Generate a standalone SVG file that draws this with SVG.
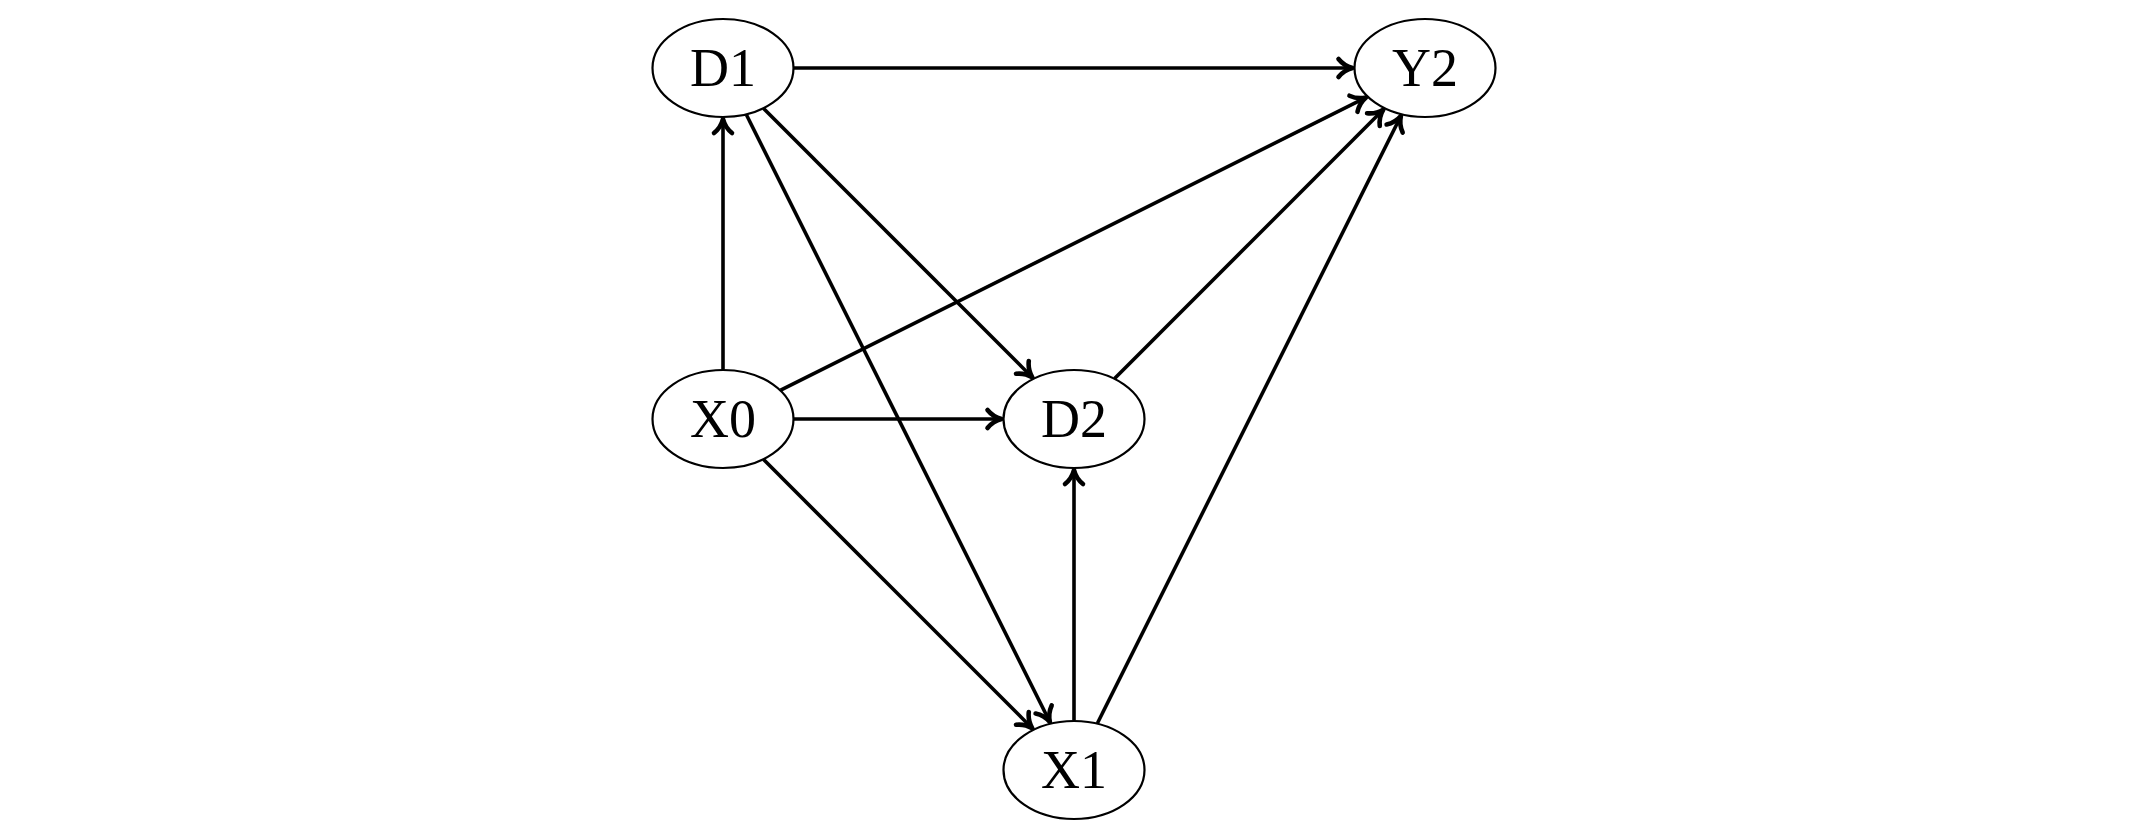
<svg xmlns="http://www.w3.org/2000/svg" width="2138" height="837" viewBox="0 0 2138 837">
<style>
.node ellipse{fill:#fff;stroke:#000;stroke-width:2.2}
.node text{font-family:"Liberation Serif","DejaVu Serif",serif;font-size:54px;text-anchor:middle;fill:#000}
.edges line{stroke:#000;stroke-width:3.6;fill:none;marker-end:url(#arr)}
</style>
<defs>
<marker id="arr" markerUnits="userSpaceOnUse" markerWidth="24" markerHeight="24" refX="-2" refY="0" orient="auto" overflow="visible" viewBox="-16 -12 24 24">
<path d="M -14,-9 C -10,-4 -4,-1 0,0 C -4,1 -10,4 -14,9" fill="none" stroke="#000" stroke-width="4.6" stroke-linecap="round" stroke-linejoin="round"/>
</marker>
</defs>
<rect width="2138" height="837" fill="#fff"/>
<g class="edges" id="edges">
<line x1="794" y1="68" x2="1350.5" y2="68"/>
<line x1="723" y1="369.5" x2="723" y2="121"/>
<line x1="763.6" y1="108.6" x2="1030.9" y2="375.9"/>
<line x1="746.4" y1="114.7" x2="1049" y2="720.2"/>
<line x1="780.7" y1="390.2" x2="1364.2" y2="98.4"/>
<line x1="794" y1="419" x2="999.5" y2="419"/>
<line x1="763.6" y1="459.6" x2="1030.9" y2="726.9"/>
<line x1="1114.6" y1="378.4" x2="1381.9" y2="111.1"/>
<line x1="1074" y1="720.5" x2="1074" y2="472"/>
<line x1="1097.4" y1="723.3" x2="1400" y2="117.8"/>
</g>
<g class="node" id="D1"><ellipse cx="723" cy="68" rx="70.5" ry="49"/><text x="723" y="86">D1</text></g>
<g class="node" id="Y2"><ellipse cx="1425" cy="68" rx="70.5" ry="49"/><text x="1425" y="86">Y2</text></g>
<g class="node" id="X0"><ellipse cx="723" cy="419" rx="70.5" ry="49"/><text x="723" y="437">X0</text></g>
<g class="node" id="D2"><ellipse cx="1074" cy="419" rx="70.5" ry="49"/><text x="1074" y="437">D2</text></g>
<g class="node" id="X1"><ellipse cx="1074" cy="770" rx="70.5" ry="49"/><text x="1074" y="788">X1</text></g>
</svg>
